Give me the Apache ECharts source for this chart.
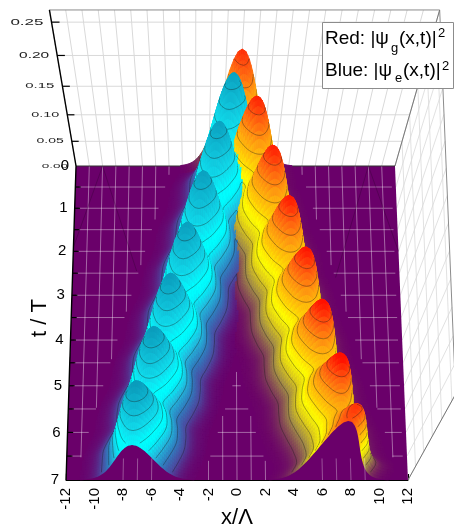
<!DOCTYPE html>
<html>
<head>
<meta charset="utf-8">
<style>
html, body { margin: 0; padding: 0; background: #fff; }
#myChart { width: 454px; height: 527px; filter: blur(0.3px); }
</style>
<script src="https://cdn.jsdelivr.net/npm/echarts@6/dist/echarts.min.js"></script>
</head>
<body>
<div id="myChart"></div>
<script>
// ridge tables, one entry every quarter of a period
const ridgeTimes = [0, .25, .5, .75, 1, 1.25, 1.5, 1.75, 2, 2.25, 2.5, 2.75, 3, 3.25, 3.5, 3.75, 4, 4.25, 4.5, 4.75, 5, 5.25, 5.5, 5.75, 6, 6.25, 6.5, 6.75, 7];
const redPeak = [.21, .178, .128, .168, .214, .176, .128, .170, .216, .178, .130, .172, .218, .180, .130, .172, .220, .180, .130, .174, .223, .182, .132, .176, .226, .186, .150, .205, .195];
const bluePeak = [0, .11, .212, .168, .125, .170, .213, .170, .125, .172, .215, .172, .125, .172, .216, .172, .125, .174, .220, .174, .125, .176, .222, .176, .125, .178, .224, .170, .122];
const redCentre = [0, .24, .48, .72, .94, 1.18, 1.43, 1.68, 1.93, 2.16, 2.41, 2.66, 2.90, 3.14, 3.38, 3.62, 3.87, 4.1, 4.34, 4.58, 4.82, 5.07, 5.32, 5.57, 5.83, 6.1, 6.4, 6.85, 6.4];
const blueCentre = [0, -.28, -.55, -.8, -1.02, -1.26, -1.52, -1.77, -2.02, -2.27, -2.52, -2.76, -3.0, -3.26, -3.52, -3.76, -4.0, -4.26, -4.52, -4.76, -5.0, -5.26, -5.52, -5.78, -6.02, -6.26, -6.52, -6.76, -7.0];
// height across a ridge, relative to its top, every 0.25 x/Lambda away from the centre
const sectionShape = [1, .981, .925, .84, .733, .616, .498, .387, .289, .208, .144, .096, .061, .038, .022, .013, .007, .003, .001, 0];

const zTicks = [0, .05, .1, .15, .2, .25];
const zTickLabels = ["0.00", "0.05", "0.10", "0.15", "0.20", "0.25"];
const tTicks = [0, 1, 2, 3, 4, 5, 6, 7];
const contourLevels = [.02, .045, .07, .095, .12, .145, .17, .195];

const redStops = [[0, "#6a006a"], [.02, "#7e3c58"], [.045, "#a08a48"], [.075, "#e0d018"], [.1, "#ffff00"], [.13, "#ffc808"], [.16, "#ff9a10"], [.19, "#ff5a10"], [.22, "#ff1000"]];
const blueStops = [[0, "#6a006a"], [.02, "#4c4aa0"], [.045, "#2f80c0"], [.075, "#20c0e0"], [.1, "#00f8fc"], [.115, "#00ffff"], [.14, "#10e0ee"], [.175, "#10c0d8"], [.22, "#0a9cbc"]];

// camera: floor homography plus the point all the vertical lines run to
const vanish = [195, 864];
const camHeight = 1.463;
const zTop = .2673;
function project(x, t, z) {
    var w = 1 - 0.0096 * t;
    var px = (13.29 * x - 2.06 * t + 235.5) / w;
    var py = (40.25 * t + 166) / w;
    var k = camHeight / (camHeight - z);
    var sx = vanish[0] + (px - vanish[0]) * k;
    var sy = vanish[1] + (py - vanish[1]) * k;
    // back into axis units: x axis runs -12..12 over 66..408, y axis is the picture plane
    return [(sx - 66) / 14.25 - 12, sy];
}

function smoothLookup(arr, t) {
    var f = t / 0.25;
    var i = Math.min(Math.floor(f), arr.length - 2);
    var u = f - i;
    var p0 = arr[Math.max(i - 1, 0)], p1 = arr[i], p2 = arr[i + 1], p3 = arr[Math.min(i + 2, arr.length - 1)];
    return 0.5 * (2 * p1 + (p2 - p0) * u + (2 * p0 - 5 * p1 + 4 * p2 - p3) * u * u + (3 * p1 - p0 - 3 * p2 + p3) * u * u * u);
}
function section(d) {
    var f = Math.abs(d) / 0.25;
    var i = Math.floor(f);
    if (i >= sectionShape.length - 1) return 0;
    return sectionShape[i] + (sectionShape[i + 1] - sectionShape[i]) * (f - i);
}

// mesh used only for drawing
const dt = 0.05, dx = 0.125;
const meshT = [], meshX = [];
for (var i = 0; i <= 140; i++) meshT.push(i * dt);
for (var i = 0; i <= 192; i++) meshX.push(-12 + i * dx);
const heights = [], fromRed = [];
meshT.forEach(function (t) {
    var rp = Math.max(smoothLookup(redPeak, t), 0), bp = Math.max(smoothLookup(bluePeak, t), 0);
    var rc = smoothLookup(redCentre, t), bc = smoothLookup(blueCentre, t);
    var hRow = [], cRow = [];
    meshX.forEach(function (x) {
        var r = rp * section(x - rc), b = bp * section(x - bc);
        hRow.push(Math.max(r, b));
        cRow.push(r >= b);
    });
    heights.push(hRow);
    fromRed.push(cRow);
});

function hex(c) { return [parseInt(c.slice(1, 3), 16), parseInt(c.slice(3, 5), 16), parseInt(c.slice(5, 7), 16)]; }
function colourFor(z, stops) {
    for (var i = 1; i < stops.length; i++) {
        if (z <= stops[i][0]) {
            var u = (z - stops[i - 1][0]) / (stops[i][0] - stops[i - 1][0]);
            var a = hex(stops[i - 1][1]), b = hex(stops[i][1]);
            return "rgb(" + Math.round(a[0] + (b[0] - a[0]) * u) + "," + Math.round(a[1] + (b[1] - a[1]) * u) + "," + Math.round(a[2] + (b[2] - a[2]) * u) + ")";
        }
    }
    return stops[stops.length - 1][1];
}

function contourLines(api, r) {
    var out = [];
    for (var c = 0; c < meshX.length - 1; c++) {
        var h = [heights[r][c], heights[r][c + 1], heights[r + 1][c + 1], heights[r + 1][c]];
        var low = Math.min(h[0], h[1], h[2], h[3]), high = Math.max(h[0], h[1], h[2], h[3]);
        if (high < .02) continue;
        var xs = [meshX[c], meshX[c + 1], meshX[c + 1], meshX[c]];
        var ts = [meshT[r], meshT[r], meshT[r + 1], meshT[r + 1]];
        contourLevels.forEach(function (lev) {
            if (lev < low || lev > high) return;
            var pts = [];
            for (var e = 0; e < 4; e++) {
                var a = h[e], b = h[(e + 1) % 4];
                if ((a < lev) !== (b < lev)) {
                    var u = (lev - a) / (b - a);
                    var f = (e + 1) % 4;
                    pts.push(api.coord(project(xs[e] + (xs[f] - xs[e]) * u, ts[e] + (ts[f] - ts[e]) * u, lev)));
                }
            }
            if (pts.length >= 2) {
                out.push({
                    type: "line",
                    shape: { x1: pts[0][0], y1: pts[0][1], x2: pts[1][0], y2: pts[1][1] },
                    style: { stroke: "rgba(25,25,25,0.55)", lineWidth: 0.7 },
                });
            }
        });
    }
    return out;
}

function renderSurfaceRow(params, api) {
    var r = api.value(0);
    var children = [];
    var nx = meshX.length;
    var order = [];
    // far columns first, working in towards the camera (about x = -2.8)
    for (var c = 0; c < nx - 1 && meshX[c] < -2.8; c++) order.push(c);
    for (var c = nx - 2; c >= 0 && meshX[c] >= -2.8; c--) order.push(c);
    order.forEach(function (c) {
        var h0 = heights[r][c], h1 = heights[r][c + 1], h2 = heights[r + 1][c + 1], h3 = heights[r + 1][c];
        var avg = (h0 + h1 + h2 + h3) / 4;
        if (avg < 0.0008) return;
        var col = colourFor(avg, fromRed[r][c] ? redStops : blueStops);
        children.push({
            type: "polygon",
            shape: {
                points: [
                    api.coord(project(meshX[c], meshT[r], h0)),
                    api.coord(project(meshX[c + 1], meshT[r], h1)),
                    api.coord(project(meshX[c + 1], meshT[r + 1], h2)),
                    api.coord(project(meshX[c], meshT[r + 1], h3)),
                ],
            },
            style: { fill: col, stroke: col, lineWidth: 0.9 },
        });
    });
    // contours of the previous row go on after this row's fill so it cannot eat them
    if (r > 0) children = children.concat(contourLines(api, r - 1));
    return { type: "group", children: children };
}

function seg(api, a, b, stroke, width) {
    var p = api.coord(project(a[0], a[1], a[2])), q = api.coord(project(b[0], b[1], b[2]));
    return { type: "line", shape: { x1: p[0], y1: p[1], x2: q[0], y2: q[1] }, style: { stroke: stroke, lineWidth: width } };
}

function renderWalls(params, api) {
    var c = [];
    var gridCol = "#d9d9d9";
    for (var x = -12; x <= 12; x++) c.push(seg(api, [x, 0, 0], [x, 0, zTop], gridCol, 1));
    for (var t = 0; t <= 7; t += 0.5) c.push(seg(api, [12, t, 0], [12, t, zTop], gridCol, 0.8));
    zTicks.slice(1).forEach(function (z) {
        c.push(seg(api, [-12, 0, z], [12, 0, z], gridCol, 1));
        c.push(seg(api, [12, 0, z], [12, 7, z], gridCol, 0.8));
    });
    c.push(seg(api, [-12, 0, zTop], [12, 0, zTop], "#8c8c8c", 1));
    c.push(seg(api, [12, 0, zTop], [12, 7, zTop], "#8c8c8c", 1));
    c.push(seg(api, [12, 0, 0], [12, 0, zTop], "#777", 1));
    c.push(seg(api, [12, 7, 0], [12, 7, zTop], "#777", 1));
    return { type: "group", children: c };
}

function renderFloor(params, api) {
    var c = [{
        type: "polygon",
        shape: { points: [[-12, 0], [12, 0], [12, 7], [-12, 7]].map(function (p) { return api.coord(project(p[0], p[1], 0)); }) },
        style: { fill: "#6a006a" },
    }];
    var line = "rgba(255,255,255,0.5)";
    // floor grid only shows clear of the two ridges
    for (var t = 0.5; t <= 6.5; t += 0.5) {
        var edge = 4.8 + 0.95 * t;
        c.push(seg(api, [-11.7, t, 0], [-edge, t, 0], line, 0.8));
        c.push(seg(api, [edge, t, 0], [11.7, t, 0], line, 0.8));
        var mid = 1.05 * t - 4.95;
        if (mid > 0) c.push(seg(api, [-mid, t, 0], [mid, t, 0], line, 0.8));
    }
    for (var x = 5; x <= 11; x++) {
        var end = Math.min((x - 4.8) / 0.95, 6.6);
        c.push(seg(api, [-x, 0, 0], [-x, end, 0], line, 0.8));
        c.push(seg(api, [x, 0, 0], [x, end, 0], line, 0.8));
    }
    for (var x = -2; x <= 2; x++) {
        c.push(seg(api, [x, 4.7 + Math.abs(x) * 0.95, 0], [x, 7, 0], line, 0.8));
    }
    var faint = "rgba(40,0,40,0.45)";
    c.push(seg(api, [-10, 0, 0], [-12, 1.9, 0], faint, 0.7));
    c.push(seg(api, [-10, 0, 0], [-7.3, 2.45, 0], faint, 0.7));
    c.push(seg(api, [10, 0, 0], [12, 2, 0], faint, 0.7));
    c.push(seg(api, [10, 0, 0], [7.3, 2.6, 0], faint, 0.7));
    c.push(seg(api, [-12, 0, 0], [12, 0, 0], "#333", 1));
    return { type: "group", children: c };
}

function renderCurtain(params, api) {
    var last = heights.length - 1;
    var pts = [];
    meshX.forEach(function (x, c) { pts.push(api.coord(project(x, 7, heights[last][c]))); });
    pts.push(api.coord(project(12, 7, 0)));
    pts.push(api.coord(project(-12, 7, 0)));
    var c = [{ type: "polygon", shape: { points: pts }, style: { fill: "#6a006a" } }];
    [-8, -7, -6, 6, 7, 8, 9].forEach(function (x) {
        c.push(seg(api, [x, 6.55, 0], [x, 7, 0], "rgba(255,255,255,0.4)", 0.8));
    });
    return { type: "group", children: c };
}

function renderAxes(params, api) {
    var c = [];
    c.push(seg(api, [-12, 0, 0], [-12, 7, 0], "#000", 1.4));
    c.push(seg(api, [-12, 0, 0], [-12, 0, zTop], "#000", 1.4));
    var zScaleX = [1.35, 1.4, 1.44, 1.5, 1.55, 1.7];
    var zScaleY = [.6, .68, .72, .78, .85, .95];
    zTicks.forEach(function (z, i) {
        if (i > 0) c.push(seg(api, [-12, 0, z], [-11.5, 0, z], "#000", 1.2));
        var p = api.coord(project(-12, 0, z));
        c.push({
            type: "text", x: p[0] - 8, y: p[1], scaleX: zScaleX[i], scaleY: zScaleY[i],
            style: { text: zTickLabels[i], fontFamily: "Liberation Sans", fontSize: 10, fill: "#222", align: "right", verticalAlign: "middle" },
        });
    });
    for (var t = 0.5; t < 7; t += 0.5) c.push(seg(api, [-12, t, 0], [-11.6, t, 0], "#000", 1.2));
    tTicks.forEach(function (t) {
        var p = api.coord(project(-12, t, 0));
        c.push({
            type: "text", x: p[0] - 7, y: p[1],
            style: { text: String(t), fontFamily: "Liberation Sans", fontSize: 15, fill: "#000", align: "right", verticalAlign: "middle" },
        });
    });
    return { type: "group", children: c };
}

function customSeries(name, render, data) {
    return { name: name, type: "custom", renderItem: render, data: data, clip: false, silent: true, animation: false, progressive: 0 };
}

var rowItems = [];
for (var r = 0; r < meshT.length - 1; r++) rowItems.push([r, 0]);

var legendFont = { fontFamily: "Liberation Sans", fill: "#000" };
function legendText(x, y, text, size) {
    return { type: "text", x: x, y: y, z: 51, style: Object.assign({ text: text, fontSize: size, verticalAlign: "middle" }, legendFont) };
}

var myChart = echarts.init(document.getElementById("myChart"), null, { renderer: "canvas" });
var option = {
    animation: false,
    grid: { left: 66, right: 46, top: 0, bottom: 47, outerBoundsMode: "none" },
    xAxis: {
        type: "value",
        min: -12,
        max: 12,
        interval: 2,
        name: "x/\u039b",
        nameLocation: "middle",
        nameGap: 27,
        nameMoveOverlap: false,
        nameTextStyle: { fontFamily: "Liberation Sans", fontSize: 22, color: "#000" },
        axisLine: { show: true, onZero: false, lineStyle: { color: "#000", width: 1 } },
        axisTick: { show: true, inside: true, length: 6, lineStyle: { color: "#000", width: 1.2 } },
        minorTick: { show: true, splitNumber: 2, length: 4, lineStyle: { color: "#000", width: 1 } },
        splitLine: { show: false },
        axisLabel: { rotate: 90, margin: 8, fontFamily: "Liberation Sans", fontSize: 15, color: "#000", showMinLabel: true, showMaxLabel: true },
    },
    yAxis: { type: "value", min: 0, max: 480, inverse: true, show: false },
    series: [
        customSeries("walls", renderWalls, [[0, 0]]),
        customSeries("floor", renderFloor, [[0, 0]]),
        customSeries("surface", renderSurfaceRow, rowItems),
        customSeries("front edge", renderCurtain, [[0, 0]]),
        customSeries("axes", renderAxes, [[0, 0]]),
    ],
    graphic: [
        { type: "rect", z: 50, shape: { x: 322.5, y: 22.5, width: 131, height: 66 }, style: { fill: "#fff", stroke: "#8c8c8c", lineWidth: 1 } },
        legendText(325, 39, "Red: |\u03c8", 19),
        legendText(391, 48, "g", 13),
        legendText(399, 39, "(x,t)|", 19),
        legendText(438, 33, "2", 13),
        legendText(325, 71, "Blue: |\u03c8", 19),
        legendText(395, 78, "e", 13),
        legendText(403, 71, "(x,t)|", 19),
        legendText(442, 66, "2", 13),
        { type: "text", z: 51, x: 40, y: 318, rotation: Math.PI / 2, style: { text: "t / T", fontFamily: "Liberation Sans", fontSize: 22, fill: "#000", align: "center", verticalAlign: "middle" } },
    ],
};
myChart.setOption(option);
</script>
</body>
</html>
